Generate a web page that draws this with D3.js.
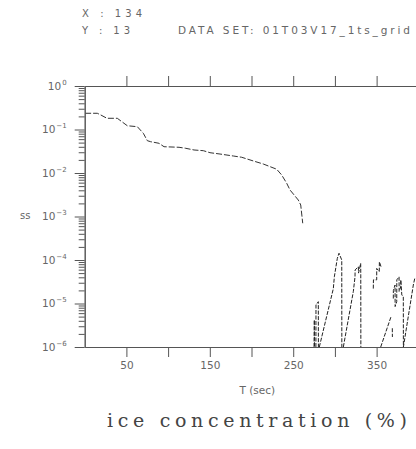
<!DOCTYPE html>
<html>
<head>
<meta charset="utf-8">
<script src="https://cdn.jsdelivr.net/npm/d3@7"></script>
<style>
  body { margin: 0; background: #fff; }
  svg { display: block; }
  text { font-family: 'DejaVu Sans', sans-serif; fill: #666; }
  .axis path, .axis line { stroke: #555; stroke-width: 1; }
</style>
</head>
<body>
<svg id="chart"></svg>
<script>
// header / labels
const headerX = 'X : 134';
const headerY = 'Y : 13';
const dataSetLabel = 'DATA SET: 01T03V17_1ts_grid';
const xTitle = 'T (sec)';
const yTitle = 'ss';
const plotTitle = 'ice concentration (%)';

// axes
const xTicks = [50, 100, 150, 200, 250, 300, 350];
const xLabeled = [50, 150, 250, 350];
const yDecades = [0, -1, -2, -3, -4, -5, -6];

// main decaying curve (T in sec, value)
const curveTime = [0.5, 15.1, 19.2, 26.7, 39.1, 47.1, 51.1, 63.1, 70.3, 75.1, 79.1, 89.1, 95.1,
  113.1, 121.1, 131.1, 142.2, 150.2, 162.2, 178.2, 188.2, 202.2, 214.1, 222.2, 230.2, 236.2,
  242.2, 246.2, 256.1, 259.0, 261.4];
const curveValue = [0.236, 0.236, 0.216, 0.181, 0.181, 0.139, 0.122, 0.116, 0.0818, 0.0553, 0.0524,
  0.0482, 0.0402, 0.039, 0.037, 0.0338, 0.0326, 0.0293, 0.0273, 0.0246, 0.023, 0.0189, 0.0161,
  0.014, 0.0122, 0.009, 0.0058, 0.00406, 0.00239, 0.00184, 0.0007];

// late bursts near the bottom (null = break in the line)
const burstTime = [275.0, 275.3, 275.5, null,
  277.2, 277.3, 280.1, 280.2, null,
  281.3, 298.1, 299.3, 302.2, 302.9, 304.9, 308.2, 308.3, null,
  310.1, 322.1, 324.1, 324.2, 328.1, 328.3, 330.9, 331.0, 331.1, null,
  346.0, 346.2, 350.1, 350.1, 353.2, 353.3, 355.3, null,
  354.9, 367.3, null, 368.8, 368.9, null,
  370.0, 370.1, 372.1, 372.2, 374.1, 374.2, 376.9, 377.0, 378.9, 379.0, 380.2, 382.0, 382.1,
  392.1, 394.0, 396.0];
const burstValue = [1e-6, 4.2e-6, 1e-6, null,
  1e-6, 9.3e-6, 1.1e-5, 1e-6, null,
  1e-6, 2.2e-5, 4.1e-5, 9.1e-5, 1.09e-4, 1.43e-4, 1e-4, 1e-6, null,
  1e-6, 1.9e-5, 4.1e-5, 5.9e-5, 7.0e-5, 5.0e-5, 8.4e-5, 4.5e-5, 1e-6, null,
  2.2e-5, 3.5e-5, 3.5e-5, 6.4e-5, 5.4e-5, 9.1e-5, 7.0e-5, null,
  1e-6, 5.0e-6, null, 2.7e-6, 1.7e-6, null,
  1.3e-5, 2.0e-5, 2.66e-5, 8.5e-6, 1.1e-5, 3.5e-5, 4.1e-5, 1.9e-5, 2.4e-5, 3.5e-5, 1.57e-5, 1.43e-5, 1e-6,
  1.57e-5, 2.66e-5, 4.0e-5];

const width = 416;
const height = 449;
const margin = { top: 86, right: -14, bottom: 102, left: 84.7 };
const innerWidth = width - margin.left - margin.right;
const innerHeight = height - margin.top - margin.bottom;

const svg = d3.select('#chart')
  .attr('width', width)
  .attr('height', height);

const x = d3.scaleLinear().domain([0, 414]).range([0, innerWidth]);
const y = d3.scaleLog().domain([1e-6, 1]).range([innerHeight, 0]);

const chart = svg.append('g')
  .attr('transform', `translate(${margin.left},${margin.top})`);

chart.append('clipPath').attr('id', 'plot-clip')
  .append('rect')
  .attr('width', innerWidth)
  .attr('height', innerHeight);

// lines
const line = d3.line()
  .defined(d => d[0] !== null && d[1] !== null)
  .x(d => x(d[0]))
  .y(d => y(d[1]));

const plot = chart.append('g').attr('clip-path', 'url(#plot-clip)');

plot.append('path')
  .datum(d3.zip(curveTime, curveValue))
  .attr('fill', 'none')
  .attr('stroke', '#333')
  .attr('stroke-width', 1)
  .attr('stroke-dasharray', '6,2')
  .attr('d', line);

plot.append('path')
  .datum(d3.zip(burstTime, burstValue))
  .attr('fill', 'none')
  .attr('stroke', '#222')
  .attr('stroke-width', 1)
  .attr('stroke-dasharray', '4,1.5')
  .attr('d', line);

// x axes (top and bottom)
chart.append('g')
  .attr('class', 'axis x-top')
  .call(d3.axisTop(x).tickValues(xTicks).tickSize(10).tickSizeOuter(0))
  .selectAll('text').remove();

const xBottom = chart.append('g')
  .attr('class', 'axis x-bottom')
  .attr('transform', `translate(0,${innerHeight})`)
  .call(d3.axisBottom(x).tickValues(xTicks).tickSize(10).tickSizeOuter(0));

xBottom.selectAll('text')
  .filter(d => !xLabeled.includes(d))
  .remove();

xBottom.selectAll('text')
  .attr('y', 15)
  .style('font-size', '10.5px')
  .style('fill', '#666');

// y axis, major and minor ticks
const minorTicks = [];
yDecades.slice(0, -1).forEach(p => {
  for (let m = 2; m <= 9; m++) minorTicks.push(m * Math.pow(10, p - 1));
});

chart.append('g')
  .attr('class', 'axis y-minor')
  .call(d3.axisLeft(y).tickValues(minorTicks).tickSize(6).tickSizeOuter(0))
  .selectAll('text').remove();

chart.append('g')
  .attr('class', 'axis y-major')
  .call(d3.axisLeft(y).tickValues(yDecades.map(p => Math.pow(10, p))).tickSize(10).tickSizeOuter(0))
  .selectAll('text').remove();

const yLabels = chart.append('g').attr('class', 'y-labels');
yDecades.forEach(p => {
  const t = yLabels.append('text')
    .attr('x', -18)
    .attr('y', y(Math.pow(10, p)) + 3.5)
    .attr('text-anchor', 'end')
    .style('font-size', '10.5px');
  t.append('tspan').text('10');
  t.append('tspan')
    .attr('dx', 1)
    .attr('dy', -5)
    .style('font-size', '7px')
    .text(p === 0 ? '0' : '\u2212' + Math.abs(p));
});

// titles
svg.append('text')
  .attr('x', 20)
  .attr('y', 219)
  .style('font-size', '10px')
  .text(yTitle);

svg.append('text')
  .attr('x', margin.left + x(207))
  .attr('y', 394)
  .attr('text-anchor', 'middle')
  .style('font-size', '10.5px')
  .text(xTitle);

svg.append('text')
  .attr('x', 82)
  .attr('y', 17)
  .attr('textLength', 60)
  .attr('lengthAdjust', 'spacing')
  .style('font-size', '10px')
  .text(headerX);

svg.append('text')
  .attr('x', 82)
  .attr('y', 34)
  .attr('textLength', 48)
  .attr('lengthAdjust', 'spacing')
  .style('font-size', '10px')
  .text(headerY);

svg.append('text')
  .attr('x', 178)
  .attr('y', 34)
  .attr('textLength', 232)
  .attr('lengthAdjust', 'spacing')
  .style('font-size', '10.5px')
  .text(dataSetLabel);

svg.append('text')
  .attr('x', 107)
  .attr('y', 427)
  .attr('textLength', 300)
  .attr('lengthAdjust', 'spacing')
  .style('font-family', "'DejaVu Serif', serif")
  .style('font-size', '19px')
  .style('fill', '#444')
  .text(plotTitle);
</script>
</body>
</html>
